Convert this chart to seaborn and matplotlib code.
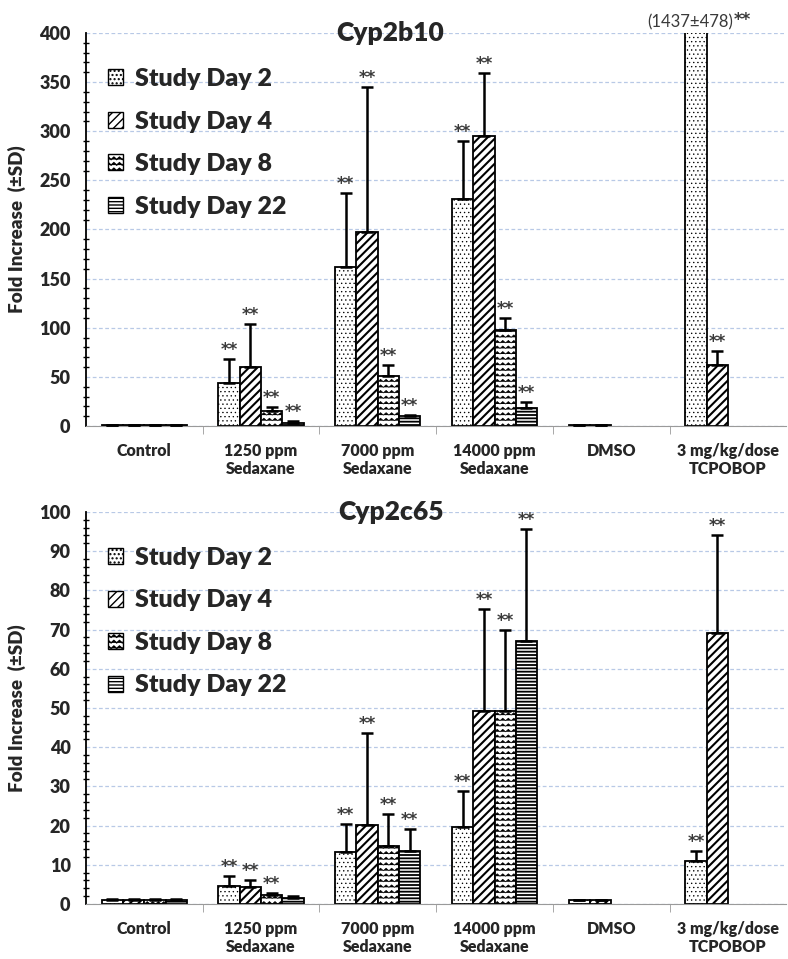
"""
Cyp2b10 / Cyp2c65 fold increase by treatment group and study day.
"""

import warnings

import matplotlib
matplotlib.use("Agg")
import matplotlib.pyplot as plt
import matplotlib.hatch as mhatch
from matplotlib.path import Path
from matplotlib.patches import Patch
from matplotlib.ticker import MultipleLocator, FixedLocator
import seaborn as sns
import pandas as pd
import numpy as np

warnings.filterwarnings("ignore")

# ---- data -------------------------------------------------------------
groups = ["Control", "1250 ppm\nSedaxane", "7000 ppm\nSedaxane",
          "14000 ppm\nSedaxane", "DMSO", "3 mg/kg/dose\nTCPOBOP"]
days = ["Study Day 2", "Study Day 4", "Study Day 8", "Study Day 22"]
nan = np.nan

# Cyp2b10
b10_day2 = [1, 44, 162, 231, 1, 1437]
b10_day4 = [1, 60, 197, 295, 1, 62]
b10_day8 = [1, 15, 51, 98, nan, nan]
b10_day22 = [1, 3.5, 9.7, 18.3, nan, nan]
b10_sd2 = [0.3, 24, 75, 59, 0.3, 478]
b10_sd4 = [0.4, 44, 148, 64, 0.3, 14]
b10_sd8 = [0.3, 4, 11, 12, nan, nan]
b10_sd22 = [0.2, 1.5, 1.5, 6.4, nan, nan]
b10_sig2 = [0, 1, 1, 1, 0, 0]
b10_sig4 = [0, 1, 1, 1, 0, 1]
b10_sig8 = [0, 1, 1, 1, 0, 0]
b10_sig22 = [0, 1, 1, 1, 0, 0]

# Cyp2c65
c65_day2 = [1, 4.6, 13.3, 19.6, 1, 11]
c65_day4 = [1, 4.3, 20.1, 49.2, 1, 69]
c65_day8 = [1, 2.3, 14.8, 49.2, nan, nan]
c65_day22 = [1, 1.4, 13.6, 67, nan, nan]
c65_sd2 = [0.2, 2.5, 7, 9.2, 0.1, 2.5]
c65_sd4 = [0.2, 1.7, 23.5, 26, 0.1, 25]
c65_sd8 = [0.2, 0.6, 8.1, 20.6, nan, nan]
c65_sd22 = [0.2, 0.6, 5.6, 28.6, nan, nan]
c65_sig2 = [0, 1, 1, 1, 0, 1]
c65_sig4 = [0, 1, 1, 1, 0, 1]
c65_sig8 = [0, 1, 1, 1, 0, 0]
c65_sig22 = [0, 0, 1, 1, 0, 0]

hatches = ["....", "////", "~", "-----"]
hatch_lw = [0.45, 1.5, 0.5, 1.3]


# ---- zigzag hatch (no built-in wave pattern in matplotlib) --------------
class ZigzagHatch(mhatch.HatchPatternBase):
    def __init__(self, hatch, density):
        self.num_rows = hatch.count("~") * density * 3
        self.num_peaks = 18
        self.num_vertices = self.num_rows * (2 * self.num_peaks + 1)

    def set_vertices_and_codes(self, vertices, codes):
        n = 2 * self.num_peaks + 1
        xs = np.linspace(0, 1, n)
        amp = 0.22 / self.num_rows
        zig = np.where(np.arange(n) % 2 == 0, -amp, amp)
        for i in range(self.num_rows):
            y = (i + 0.5) / self.num_rows
            vertices[i * n:(i + 1) * n, 0] = xs
            vertices[i * n:(i + 1) * n, 1] = y + zig
            codes[i * n] = Path.MOVETO
            codes[i * n + 1:(i + 1) * n] = Path.LINETO


mhatch._hatch_types.append(ZigzagHatch)


def setup_style():
    sns.set_style("white")
    plt.rcParams["font.family"] = ["Lato", "DejaVu Sans"]
    plt.rcParams["hatch.linewidth"] = 1.0


def style_hatch(patch, hatch, lw):
    patch.set_hatch(hatch)
    if hasattr(patch, "set_hatch_linewidth"):
        patch.set_hatch_linewidth(lw)


def make_frame(values, sds, sigs):
    rows = []
    for day, vals, sd, sg in zip(days, values, sds, sigs):
        for g, v, s, k in zip(groups, vals, sd, sg):
            rows.append({"group": g, "day": day, "value": v, "sd": s, "sig": k})
    return pd.DataFrame(rows)


def plot_panel(ax, df, title, ymax, major, minor):
    sns.barplot(data=df.dropna(subset=["value"]), x="group", y="value",
                hue="day", order=groups, hue_order=days,
                palette={d: "white" for d in days}, edgecolor="black",
                linewidth=1.3, width=0.73, errorbar=None, legend=False,
                saturation=1, ax=ax)

    for cont, day, hatch, hlw in zip(ax.containers, days, hatches, hatch_lw):
        sub = df[df["day"] == day].set_index("group")
        for bar in cont:
            style_hatch(bar, hatch, hlw)
            cx = bar.get_x() + bar.get_width() / 2
            g = groups[int(round(cx))]
            h = sub.loc[g, "value"]
            sd = sub.loc[g, "sd"]
            if h > ymax:
                continue
            ax.errorbar(cx, h, yerr=[[0], [sd]], fmt="none", ecolor="black",
                        elinewidth=1.8, capsize=4, capthick=1.8, zorder=3)
            if sub.loc[g, "sig"]:
                ax.annotate("**", (cx, h + sd), xytext=(0, 0),
                            textcoords="offset points", ha="center",
                            va="bottom", fontsize=12, fontweight="bold",
                            family="DejaVu Sans", color="#3a3a3a")

    ax.set_ylim(0, ymax)
    ax.set_xlim(-0.5, len(groups) - 0.5)
    ax.yaxis.set_major_locator(MultipleLocator(major))
    ax.yaxis.set_minor_locator(MultipleLocator(minor))
    ax.xaxis.set_minor_locator(FixedLocator(np.arange(0.5, len(groups) - 1, 1)))
    ax.tick_params(axis="y", which="major", length=8, width=1.3,
                   direction="inout", labelsize=13, color="black", pad=7)
    ax.tick_params(axis="y", which="minor", length=4, width=1,
                   direction="inout", color="black", left=True)
    ax.tick_params(axis="x", which="major", length=0, labelsize=11.5, pad=12)
    ax.tick_params(axis="x", which="minor", length=6, color="#9a9a9a",
                   direction="out", bottom=True)
    for lab in ax.get_xticklabels() + ax.get_yticklabels():
        lab.set_fontweight("heavy")
        lab.set_linespacing(1.15)

    ax.grid(axis="y", which="major", color="#b8c9e6", linestyle=(0, (3, 2)),
            linewidth=0.9)
    ax.set_axisbelow(True)
    sns.despine(ax=ax)
    ax.spines["left"].set_color("black")
    ax.spines["left"].set_linewidth(1.3)
    ax.spines["bottom"].set_color("#9a9a9a")
    ax.set_xlabel("")
    ax.set_ylabel("Fold Increase  (±SD)", fontsize=13.5, fontweight="heavy")
    ax.yaxis.set_label_coords(-0.085, 0.5)
    ax.text(0.435, 1.0, title, transform=ax.transAxes, ha="center",
            va="center", fontsize=19, fontweight="heavy")

    handles = []
    for h, hlw in zip(hatches, hatch_lw):
        p = Patch(facecolor="white", edgecolor="black", linewidth=1)
        style_hatch(p, h, hlw)
        handles.append(p)
    ax.legend(handles, days, loc="upper left", bbox_to_anchor=(0.0, 0.968),
              frameon=False, prop={"size": 18, "weight": "heavy"},
              handlelength=0.6, handleheight=0.6, handletextpad=0.45,
              labelspacing=0.82)


setup_style()
fig = plt.figure(figsize=(7.88, 9.59), dpi=100)
ax1 = fig.add_axes([0.109, 0.5558, 0.889, 0.4098])
ax2 = fig.add_axes([0.109, 0.0574, 0.889, 0.4088])

df_b10 = make_frame([b10_day2, b10_day4, b10_day8, b10_day22],
                    [b10_sd2, b10_sd4, b10_sd8, b10_sd22],
                    [b10_sig2, b10_sig4, b10_sig8, b10_sig22])
df_c65 = make_frame([c65_day2, c65_day4, c65_day8, c65_day22],
                    [c65_sd2, c65_sd4, c65_sd8, c65_sd22],
                    [c65_sig2, c65_sig4, c65_sig8, c65_sig22])

plot_panel(ax1, df_b10, "Cyp2b10", 400, 50, 10)
plot_panel(ax2, df_c65, "Cyp2c65", 100, 10, 2)

# off-scale TCPOBOP Day 2 value in the top panel
tc = groups[-1]
x_tc = ax1.containers[0][-1].get_x() + ax1.containers[0][-1].get_width() / 2
v = df_b10[(df_b10.group == tc) & (df_b10.day == days[0])].iloc[0]
t1 = ax1.annotate(f"({v.value:.0f}±{v.sd:.0f})", (x_tc, 400), xytext=(-4, 2),
                  textcoords="offset points", ha="center", va="bottom",
                  fontsize=12, color="#3a3a3a", annotation_clip=False)
ax1.annotate("**", (1, 0.1), xycoords=t1, ha="left", va="bottom",
             fontsize=12, fontweight="bold", family="DejaVu Sans",
             color="#3a3a3a", annotation_clip=False)

fig.savefig("out.png", dpi=100)
